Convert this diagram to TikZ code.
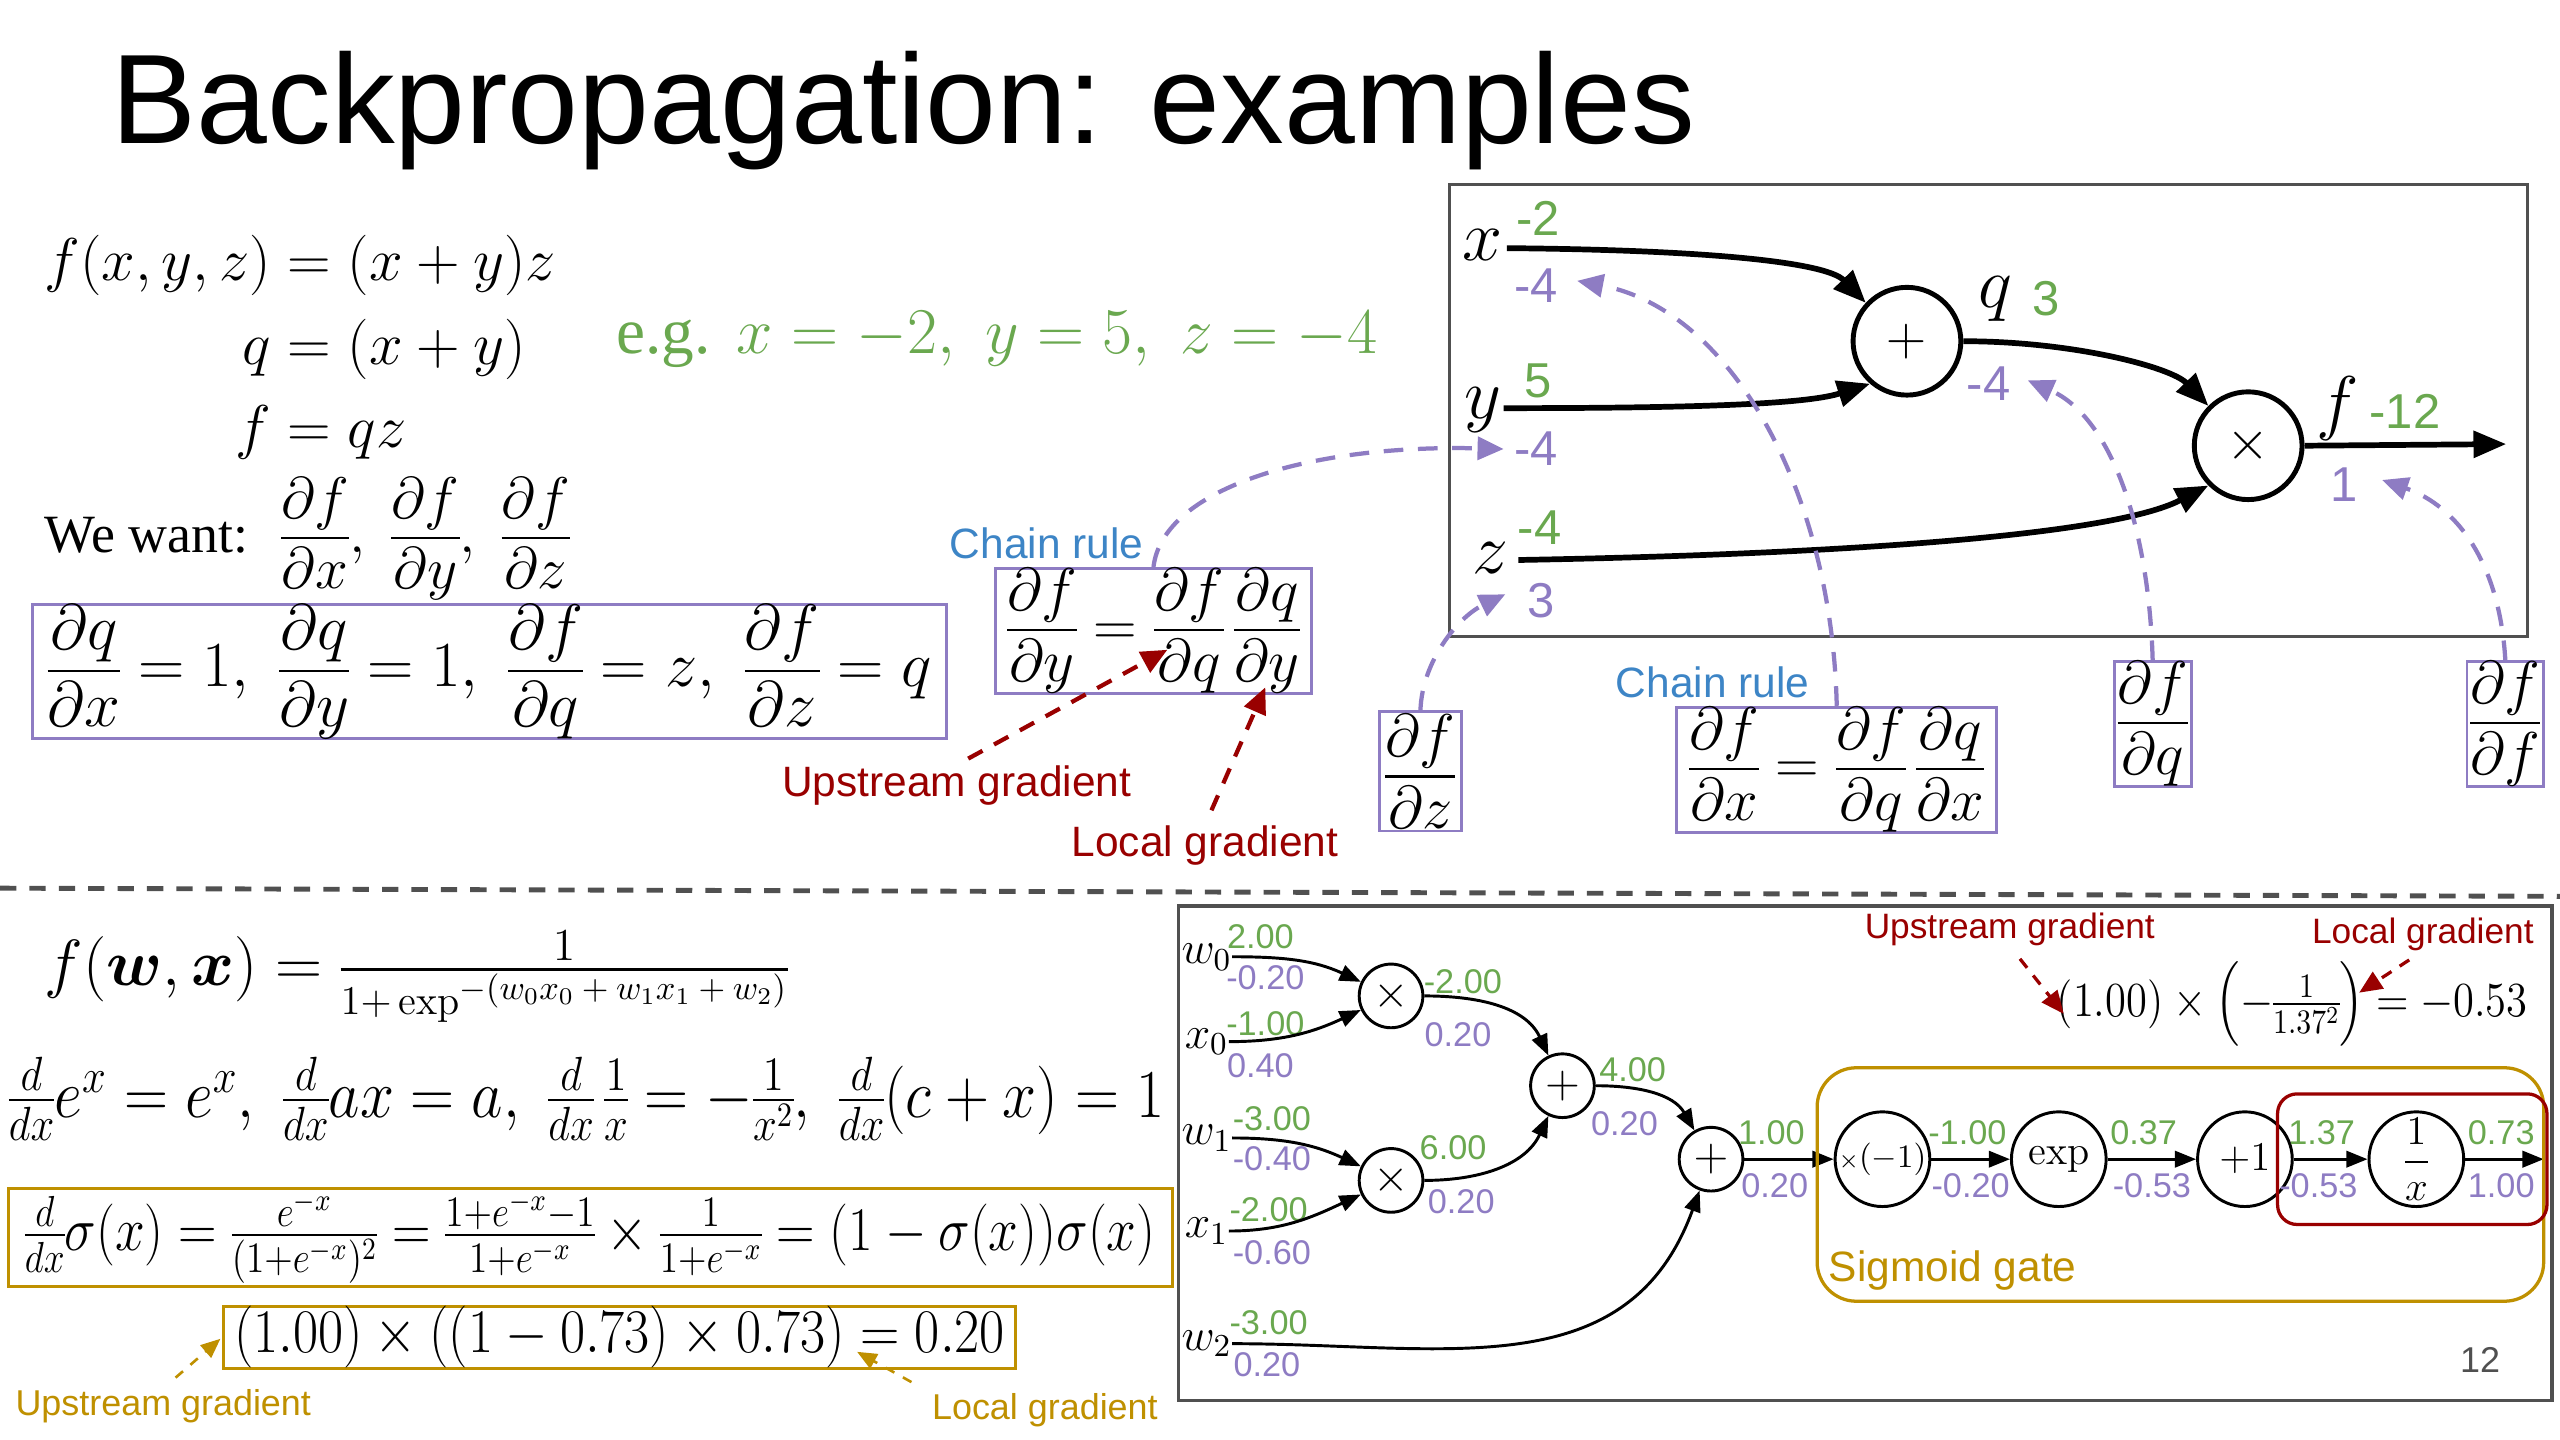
\RequirePackage{fix-cm}
\documentclass[tikz,border=0pt]{standalone}
\usepackage{amsmath}
\usepackage{graphicx}
\usepackage{fontspec}
\setsansfont{Liberation Sans}
\newfontfamily\tnr{Liberation Serif}
\usetikzlibrary{arrows.meta}
\definecolor{gr}{RGB}{106,168,79}
\definecolor{pu}{RGB}{142,124,195}
\definecolor{bl}{RGB}{61,133,198}
\definecolor{dr}{RGB}{153,0,0}
\definecolor{go}{RGB}{191,144,0}
\definecolor{bx}{RGB}{80,80,80}
\newcommand\fsz[1]{\fontsize{#1}{#1}\selectfont}
\nulldelimiterspace=0pt
\newcommand\pf[2]{{\textstyle\frac{\displaystyle #1\rule[-0.27em]{0pt}{0.27em}}{\displaystyle\rule{0pt}{0.8em}#2}}}
\begin{document}
\begin{tikzpicture}[x=0.5pt,y=-0.5pt,
  lab/.style={inner sep=0pt,font=\sffamily\fsz{15}},
  gv/.style={lab,text=gr},
  pv/.style={lab,text=pu},
  gs/.style={inner sep=0pt,font=\sffamily\fsz{10.5},text=gr},
  ps/.style={inner sep=0pt,font=\sffamily\fsz{10.5},text=pu},
  var/.style={inner sep=0pt,font=\fsz{22}},
  svar/.style={inner sep=0pt,font=\fsz{14}},
  bigop/.style={circle,draw,line width=1.5pt,minimum size=33pt,inner sep=0pt,font=\fsz{17}},
  smop/.style={circle,draw,line width=0.9pt,minimum size=19.5pt,inner sep=0pt,font=\fsz{14}},
  medop/.style={circle,draw,line width=0.9pt,minimum size=29pt,inner sep=0pt},
  fwd/.style={line width=1.75pt,-{Triangle[length=10pt,width=8pt]}},
  sfwd/.style={line width=0.9pt,-{Triangle[length=6.5pt,width=5pt]}},
  bwd/.style={pu,line width=1.3pt,dash pattern=on 6pt off 4.5pt,-{Triangle[length=8pt,width=7pt]}},
  redarr/.style={dr,line width=1.3pt,dash pattern=on 5pt off 4pt,-{Triangle[length=8pt,width=7pt]}},
  redarrs/.style={dr,line width=1pt,dash pattern=on 3.5pt off 3pt,-{Triangle[length=7pt,width=6pt]}},
  goarr/.style={go,line width=0.8pt,dash pattern=on 3pt off 3pt,-{Triangle[length=6pt,width=5pt]}},
  pbox/.style={draw=pu,line width=0.9pt,inner sep=0pt,font=\fsz{18.5}},
  note/.style={inner sep=0pt,font=\sffamily\fsz{13}},
]
\useasboundingbox (0,0) rectangle (1568,882);
\fill[white] (0,0) rectangle (1568,882);

% title
\node[anchor=base west,inner sep=0pt,font=\sffamily\fsz{39}] (title) at (68,88) {Backpropagation: examples};

% ---------- top left ----------
\node[anchor=west,inner sep=0pt,font=\fontsize{18.5}{22.5}\selectfont] (eqs) at (27,214)
  {$\begin{aligned} f(x,y,z) &= (x+y)z\\ q &= (x+y)\\ f &= qz\end{aligned}$};
\node[anchor=west,inner sep=0pt,text=gr,font=\fsz{20}] (eg) at (377,208)
  {{\tnr e.g.} $x=-2,\ y=5,\ z=-4$};
\node[anchor=west,inner sep=0pt,font=\fsz{18}] (want) at (27,330)
  {{\tnr\fsz{16.5}We want:}\hspace{10pt}$\pf{\partial f}{\partial x},\;\pf{\partial f}{\partial y},\;\pf{\partial f}{\partial z}$};
\node[pbox,minimum width=280pt,minimum height=36.5pt,font=\fsz{19.7}] (b1) at (300,411.5)
  {$\pf{\partial q}{\partial x}=1,\ \pf{\partial q}{\partial y}=1,\ \pf{\partial f}{\partial q}=z,\ \pf{\partial f}{\partial z}=q$};

% chain rule y
\node[pbox,minimum width=96.5pt,minimum height=36.5pt] (cy) at (706.5,386.5)
  {$\pf{\partial f}{\partial y}=\pf{\partial f}{\partial q}\,\pf{\partial q}{\partial y}$};
\node[note,text=bl] (cr1) at (641,333) {Chain rule};
\node[note,text=dr] (up1) at (586,481) {Upstream gradient};
\node[note,text=dr] (lo1) at (738,518) {Local gradient};
\coordinate (up1e) at (715,398);
\coordinate (lo1e) at (775,421);
\draw[redarr,shorten <=4pt] (up1.north) -- (up1e);
\draw[redarr,shorten <=5pt] (lo1.north) -- (lo1e);

% ---------- top graph ----------
\draw[bx,line width=1pt] (888,113) rectangle (1548,390);
\node[var] (vx) at (908,150) {$x$};
\node[gv] (gx) at (942,134) {-2};
\node[pv] (px) at (941,175) {-4};
\node[var] (vy) at (908,251) {$y$};
\node[gv] (gy) at (942,233) {5};
\node[pv] (py) at (941,275) {-4};
\node[var] (vz) at (913,342) {$z$};
\node[gv] (gz) at (943,323) {-4};
\node[pv] (pz) at (944,368) {3};
\node[bigop] (plus) at (1168,209) {$+$};
\node[bigop] (times) at (1377,273) {$\times$};
\node[var] (vq) at (1222,183) {$q$};
\node[gv] (gq) at (1253,183) {3};
\node[pv] (pq) at (1218,235) {-4};
\node[var] (vf) at (1432,250) {$f$};
\node[gv] (gf) at (1473,252) {-12};
\node[pv] (pf) at (1436,297) {1};

\coordinate (xs) at (923,152);
\coordinate (ys) at (921,250);
\coordinate (zs) at (930,343);
\coordinate (fo) at (1535,272);
\draw[fwd] (xs) .. controls (1040,153) and (1118,160) .. (plus.137);
\draw[fwd] (ys) .. controls (1030,250) and (1105,248) .. (plus.-131);
\draw[fwd] (plus.east) .. controls (1270,209) and (1330,225) .. (times.135);
\draw[fwd] (zs) .. controls (1100,340) and (1290,330) .. (times.-135);
\draw[fwd] (times.east) -- (fo);

% gradient boxes
\node[note,text=bl] (cr2) at (1049,418) {Chain rule};
\node[pbox,minimum width=98pt,minimum height=36.5pt] (cx) at (1125,471.5)
  {$\pf{\partial f}{\partial x}=\pf{\partial f}{\partial q}\,\pf{\partial q}{\partial x}$};
\node[pbox,minimum width=25pt,minimum height=36.5pt] (bfz) at (870,472.5) {$\pf{\partial f}{\partial z}$};
\node[pbox,minimum width=23.5pt,minimum height=36.5pt] (bfq) at (1318.5,443.5) {$\pf{\partial f}{\partial q}$};
\node[pbox,minimum width=23.5pt,minimum height=36.5pt] (bff) at (1534.5,443.5) {$\pf{\partial f}{\partial f}$};

\coordinate (tf) at (1459,294);
\coordinate (tq) at (1242,233);
\coordinate (tx) at (966,172);
\coordinate (ty) at (921,275);
\coordinate (tz) at (922,364);
\draw[bwd] (bff.north) .. controls (1531,345) and (1505,310) .. (tf);
\draw[bwd] (bfq.north) .. controls (1316,320) and (1292,255) .. (tq);
\draw[bwd] (cx.north) .. controls (1122,300) and (1060,190) .. (tx);
\draw[bwd] (cy.north) .. controls (712,300) and (800,272) .. (ty);
\draw[bwd] (bfz.north) .. controls (871,405) and (893,378) .. (tz);

% separator
\draw[bx,line width=1.5pt,dash pattern=on 5pt off 4pt] (0,544) -- (1568,549);

% ---------- bottom left ----------
\node[anchor=west,inner sep=0pt,font=\fsz{20}] (fw) at (27,598)
  {$f(\boldsymbol{w},\boldsymbol{x}) = \frac{\text{\fsz{14}$1$}}{\text{\fsz{12.5}$1{+}\exp^{\text{\fsz{10.5}$-(w_0x_0+w_1x_1+w_2)$}}$}}$};
\node[anchor=west,inner sep=0pt,font=\fsz{21}] (der) at (5,673)
  {\scalebox{0.89}[1]{$\frac{d}{dx}e^x=e^x,\ \frac{d}{dx}ax=a,\ \frac{d}{dx}\,\frac{1}{x}=-\frac{1}{x^2},\ \frac{d}{dx}(c+x)=1$}};
\node[draw=go,line width=1pt,inner sep=0pt,minimum width=356.5pt,minimum height=30pt,font=\fsz{19}] (sg) at (361.5,758)
  {\scalebox{0.86}[1]{$\frac{d}{dx}\sigma(x)=\frac{e^{-x}}{(1+e^{-x})^2}=\frac{1+e^{-x}-1}{1+e^{-x}}\times\frac{1}{1+e^{-x}}=(1-\sigma(x))\sigma(x)$}};
\node[draw=go,line width=1pt,inner sep=0pt,minimum width=242.5pt,minimum height=19pt,font=\fsz{19}] (calc) at (379.5,819)
  {\scalebox{0.88}[1]{$(1.00)\times((1-0.73)\times0.73)=0.20$}};
\node[note,font=\sffamily\fsz{11},text=go] (gup) at (100,861) {Upstream gradient};
\node[note,font=\sffamily\fsz{11},text=go] (glo) at (640,864) {Local gradient};
\coordinate (gupe) at (135,820);
\coordinate (gloe) at (525,828);
\draw[goarr,shorten <=5pt] (gup.north) -- (gupe);
\draw[goarr,shorten <=7pt] (glo.north west) -- (gloe);

% ---------- bottom graph ----------
\draw[bx,line width=1pt] (722,555) rectangle (1563,858);
\node[svar] (w0) at (739,586) {$w_0$};
\node[gs] (gw0) at (772,574) {2.00};
\node[ps] (pw0) at (775,599) {-0.20};
\node[svar] (x0) at (739,638) {$x_0$};
\node[gs] (gx0) at (775,627) {-1.00};
\node[ps] (px0) at (772,653) {0.40};
\node[svar] (w1) at (739,697) {$w_1$};
\node[gs] (gw1) at (779,685) {-3.00};
\node[ps] (pw1) at (779,710) {-0.40};
\node[svar] (x1) at (739,754) {$x_1$};
\node[gs] (gx1) at (777,741) {-2.00};
\node[ps] (px1) at (779,767) {-0.60};
\node[svar] (w2) at (739,823) {$w_2$};
\node[gs] (gw2) at (777,810) {-3.00};
\node[ps] (pw2) at (776,836) {0.20};

\node[smop] (m1) at (852,610) {$\times$};
\node[smop] (m2) at (852,723) {$\times$};
\node[smop] (a1) at (957,665) {$+$};
\node[smop] (a2) at (1048,710) {$+$};
\node[medop] (neg) at (1153,710) {{\fsz{7}$\times$}{\fsz{10}$(-1)$}};
\node[medop,font=\fsz{12.5}] (ex) at (1261,710) {$\exp$};
\node[medop,font=\fsz{12.5}] (p1) at (1375,710) {$+1$};
\node[medop,font=\fsz{12.5}] (rec) at (1480,710) {$\dfrac{1}{x}$};
\coordinate (oc) at (1558,710);

\node[gs] (gm1) at (896,601) {-2.00};
\node[ps] (pm1) at (893,634) {0.20};
\node[gs] (gm2) at (890,703) {6.00};
\node[ps] (pm2) at (895,736) {0.20};
\node[gs] (ga1) at (1000,655) {4.00};
\node[ps] (pa1) at (995,688) {0.20};
\node[gs] (ga2) at (1085,694) {1.00};
\node[ps] (pa2) at (1087,726) {0.20};
\node[gs] (gneg) at (1205,694) {-1.00};
\node[ps] (pneg) at (1207,726) {-0.20};
\node[gs] (gex) at (1313,694) {0.37};
\node[ps] (pex) at (1318,726) {-0.53};
\node[gs] (gp1) at (1422,694) {1.37};
\node[ps] (pp1) at (1420,726) {-0.53};
\node[gs] (grec) at (1532,694) {0.73};
\node[ps] (prec) at (1532,726) {1.00};

\draw[sfwd] (w0.east) to[out=0,in=155] (m1);
\draw[sfwd] (x0.east) to[out=0,in=205] (m1);
\draw[sfwd] (w1.east) to[out=0,in=155] (m2);
\draw[sfwd] (x1.east) to[out=0,in=205] (m2);
\draw[sfwd] (m1) to[out=0,in=115] (a1);
\draw[sfwd] (m2) to[out=0,in=-115] (a1);
\draw[sfwd] (a1) to[out=0,in=120] (a2);
\draw[sfwd] (w2.east) to[out=0,in=-110,looseness=1.1] (a2);
\draw[sfwd] (a2) -- (neg);
\draw[sfwd] (neg) -- (ex);
\draw[sfwd] (ex) -- (p1);
\draw[sfwd] (p1) -- (rec);
\draw[sfwd] (rec) -- (oc);

\draw[go,line width=1pt,rounded corners=12pt] (1113,654) rectangle (1558,797);
\node[note,text=go] (sgt) at (1196,778) {Sigmoid gate};
\draw[dr,line width=1pt,rounded corners=6pt] (1395,670) rectangle (1560,750);

\node[note,text=dr,font=\sffamily\fsz{10.8}] (up2) at (1231,569) {Upstream gradient};
\node[note,text=dr,font=\sffamily\fsz{10.8}] (lo2) at (1484,572) {Local gradient};
\node[inner sep=0pt,font=\fsz{15}] (eq2) at (1404,615)
  {\scalebox{0.87}[1]{$(1.00)\times\Bigl(-\frac{1}{1.37^2}\Bigr)=-0.53$}};
\coordinate (up2e) at (1264,621);
\coordinate (lo2e) at (1445,608);
\draw[redarrs,shorten <=5pt] (up2.south) -- (up2e);
\draw[redarrs,shorten <=5pt] (lo2.south) -- (lo2e);

\node[inner sep=0pt,font=\sffamily\fsz{11},text=bx] (pg) at (1519,833) {12};
\end{tikzpicture}
\end{document}
